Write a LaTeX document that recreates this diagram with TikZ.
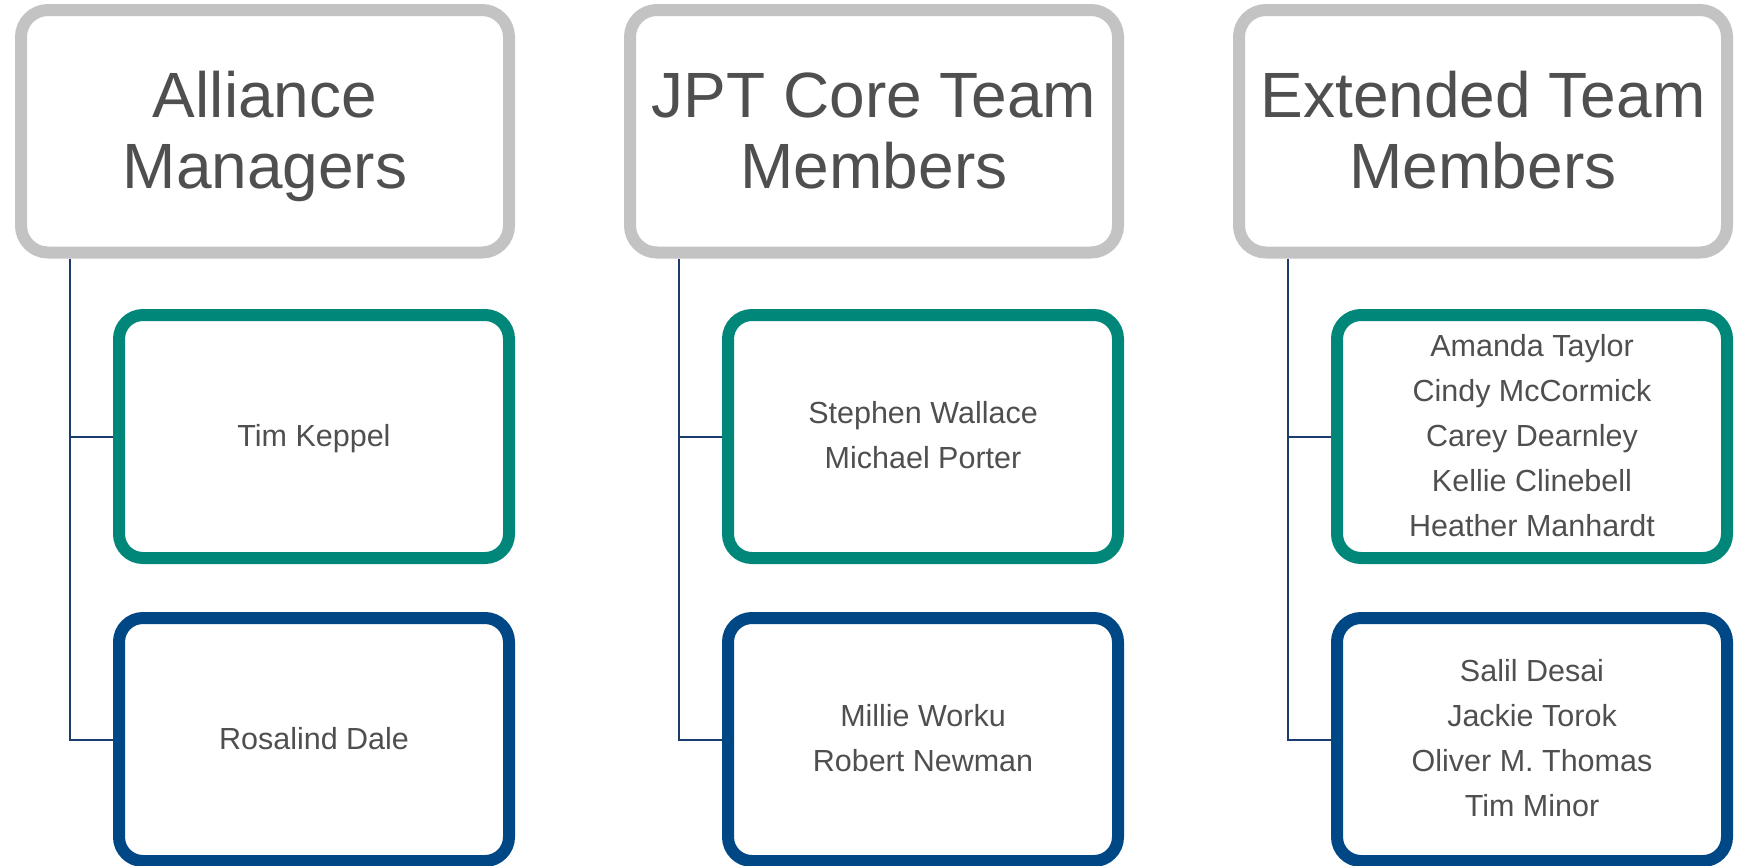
\documentclass[tikz,border=0pt]{standalone}
\usepackage{fontspec}
\setmainfont{Liberation Sans}
\usetikzlibrary{backgrounds}
\definecolor{boxgray}{HTML}{C3C3C3}
\definecolor{teamteal}{HTML}{00877A}
\definecolor{teamblue}{HTML}{004785}
\definecolor{linkblue}{HTML}{1B3D6D}
\definecolor{txtgray}{HTML}{4F4F4F}
% struts so every box centres its lines the same way
\newcommand\hdtop{\rule{0pt}{57pt}}
\newcommand\hdbot{\rule[-14pt]{0pt}{14pt}}
\newcommand\nmtop{\rule{0pt}{26pt}}
\newcommand\nmbot{\rule[-7pt]{0pt}{7pt}}
\begin{document}
\begin{tikzpicture}[x=1pt,y=-1pt,
    head/.style={draw=boxgray,line width=12pt,rounded corners=27pt,minimum
        width=488pt,minimum height=242.5pt,inner sep=0pt,align=center,
        text=txtgray,font=\fontsize{64}{71}\selectfont},
    link/.style={draw=linkblue,line width=2pt}]
    \tikzstyle{member}=[line width=12pt,rounded corners=24pt,minimum width=390pt,minimum height=243pt,inner sep=0pt,align=center,text=txtgray,font=\fontsize{30.5}{45}\selectfont]
    \useasboundingbox (0,0) rectangle (1739,865);

    \node[head] (hdrA) at (265,131.25) {\hdtop Alliance\\Managers\hdbot};
    \node[head] (hdrB) at (874,131.25) {\hdtop JPT Core Team\\Members\hdbot};
    \node[head] (hdrC) at (1483,131.25) {\hdtop Extended Team\\Members\hdbot};

    \node[member,draw=teamteal] (coreA) at (314,436.5) {\nmtop Tim Keppel\nmbot};
    \node[member,draw=teamblue] (leadA) at (314,739.5) {\nmtop Rosalind Dale\nmbot};
    \node[member,draw=teamteal] (coreB) at (923,436.5) {\nmtop Stephen Wallace\\Michael Porter\nmbot};
    \node[member,draw=teamblue] (leadB) at (923,739.5) {\nmtop Millie Worku\\Robert Newman\nmbot};
    \node[member,draw=teamteal] (coreC) at (1532,436.5) {\nmtop Amanda Taylor\\Cindy McCormick\\Carey Dearnley\\Kellie Clinebell\\Heather Manhardt\nmbot};
    \node[member,draw=teamblue] (leadC) at (1532,739.5) {\nmtop Salil Desai\\Jackie Torok\\Oliver M. Thomas\\Tim Minor\nmbot};

    \begin{scope}[on background layer]
    \draw[link] ([xshift=55pt]hdrA.south west) |- (coreA.west);
    \draw[link] ([xshift=55pt]hdrA.south west) |- (leadA.west);
    \draw[link] ([xshift=55pt]hdrB.south west) |- (coreB.west);
    \draw[link] ([xshift=55pt]hdrB.south west) |- (leadB.west);
    \draw[link] ([xshift=55pt]hdrC.south west) |- (coreC.west);
    \draw[link] ([xshift=55pt]hdrC.south west) |- (leadC.west);
    \end{scope}

  \end{tikzpicture}
\end{document}
